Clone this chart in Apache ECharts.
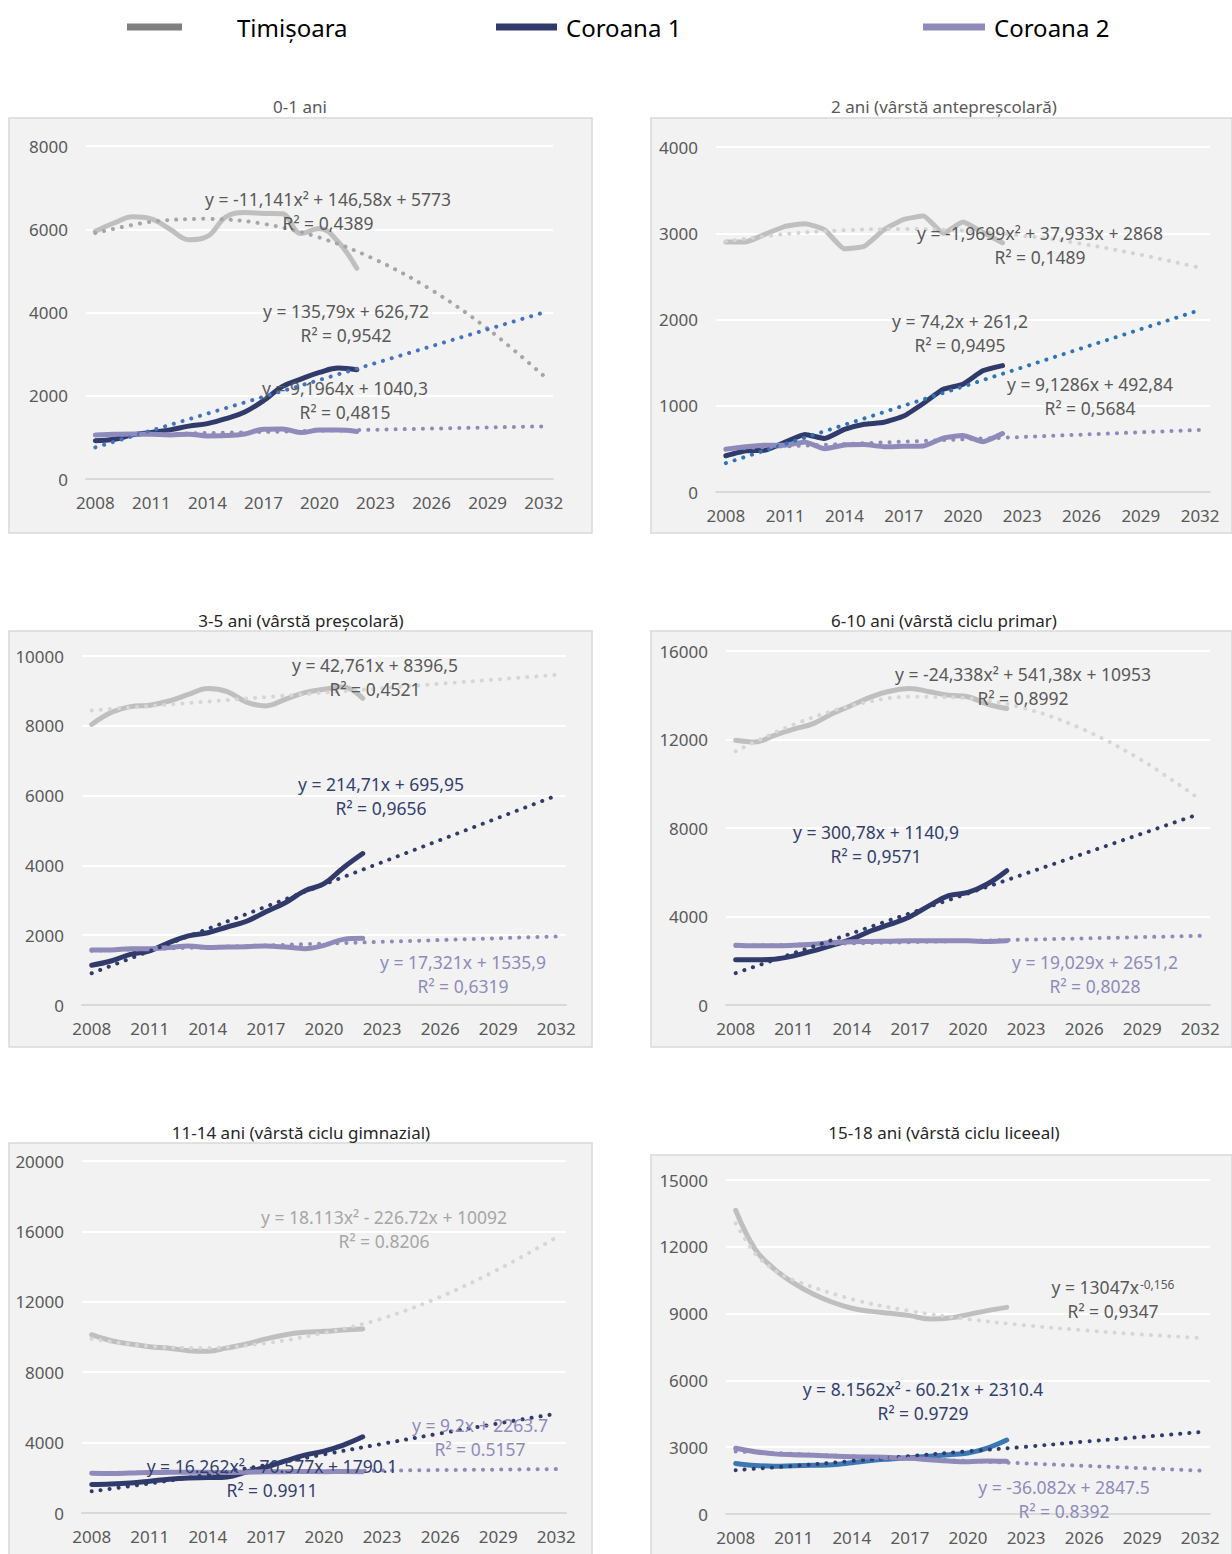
<!DOCTYPE html>
<html lang="ro">
<head>
<meta charset="utf-8">
<title>Evoluția populației pe grupe de vârstă</title>
<script src="https://cdn.jsdelivr.net/npm/echarts@6/dist/echarts.min.js"></script>
<style>
  html, body { margin: 0; padding: 0; background: #ffffff; }
  #chart { width: 1232px; height: 1554px; }
</style>
</head>
<body>
<div id="chart"></div>
<script>
// ---- Categories --------------------------------------------------------
const YEARS = ['2008', '2009', '2010', '2011', '2012', '2013', '2014', '2015', '2016', '2017',
  '2018', '2019', '2020', '2021', '2022', '2023', '2024', '2025', '2026', '2027',
  '2028', '2029', '2030', '2031', '2032'];

const SERIES_NAMES = ['Timișoara', 'Coroana 1', 'Coroana 2'];

const PANEL_TITLES = [
  '0-1 ani',
  '2 ani (vârstă antepreșcolară)',
  '3-5 ani (vârstă preșcolară)',
  '6-10 ani (vârstă ciclu primar)',
  '11-14 ani (vârstă ciclu gimnazial)',
  '15-18 ani (vârstă ciclu liceeal)'
];

// ---- 0-1 ani (2008-2022) -------------------------------------------------
const tim01 = [5950, 6150, 6300, 6250, 6000, 5750, 5830, 6300, 6400, 6380, 6370, 5900, 6020, 5700, 5060];
const cor1_01 = [920, 955, 1060, 1120, 1180, 1270, 1330, 1450, 1610, 1880, 2220, 2400, 2560, 2665, 2625];
const cor2_01 = [1060, 1075, 1083, 1075, 1060, 1075, 1035, 1043, 1083, 1195, 1204, 1115, 1175, 1175, 1140];
const tim01Trend = [['2008', 5910], ['2011', 6180], ['2014', 6250], ['2017', 6130], ['2020', 5800],
  ['2023', 5270], ['2026', 4540], ['2029', 3610], ['2032', 2480]];
const cor1_01Trend = [['2008', 760], ['2032', 4000]];
const cor2_01Trend = [['2008', 1050], ['2032', 1265]];

// ---- 2 ani ---------------------------------------------------------------
const tim02 = [2900, 2900, 2990, 3080, 3110, 3040, 2820, 2850, 3040, 3160, 3200, 3000, 3130, 3010, 2890];
const cor1_02 = [420, 478, 485, 578, 668, 620, 725, 785, 808, 880, 1028, 1190, 1250, 1405, 1465];
const cor2_02 = [497, 525, 543, 543, 580, 502, 545, 550, 525, 530, 533, 625, 655, 583, 678];
const tim02Trend = [['2008', 2905], ['2011', 2990], ['2014', 3035], ['2017', 3050], ['2020', 3030],
  ['2023', 2972], ['2026', 2878], ['2029', 2750], ['2032', 2600]];
const cor1_02Trend = [['2008', 335], ['2032', 2110]];
const cor2_02Trend = [['2008', 502], ['2032', 720]];

// ---- 3-5 ani -------------------------------------------------------------
const tim35 = [8040, 8380, 8550, 8590, 8710, 8900, 9070, 8980, 8680, 8570, 8760, 8950, 9045, 9110, 8790];
const cor1_35 = [1140, 1260, 1450, 1550, 1790, 1980, 2070, 2235, 2400, 2670, 2930, 3270, 3475, 3935, 4340];
const cor2_35 = [1575, 1575, 1615, 1615, 1645, 1690, 1645, 1660, 1670, 1690, 1660, 1615, 1710, 1880, 1910];
const tim35Trend = [['2008', 8440], ['2032', 9460]];
const cor1_35Trend = [['2008', 910], ['2032', 6000]];
const cor2_35Trend = [['2008', 1553], ['2032', 1965]];

// ---- 6-10 ani ------------------------------------------------------------
const tim610 = [11970, 11890, 12190, 12465, 12720, 13175, 13550, 13930, 14190, 14310, 14160, 14005, 13930, 13600, 13400];
const cor1_610 = [2040, 2040, 2070, 2220, 2450, 2705, 2975, 3355, 3655, 3990, 4490, 4940, 5090, 5470, 6070];
const cor2_610 = [2700, 2675, 2675, 2700, 2750, 2825, 2855, 2870, 2885, 2900, 2900, 2900, 2900, 2870, 2900];
const tim610Trend = [['2008', 11470], ['2011', 12680], ['2014', 13530], ['2017', 13930], ['2020', 13870],
  ['2023', 13390], ['2026', 12440], ['2029', 11050], ['2032', 9280]];
const cor1_610Trend = [['2008', 1440], ['2032', 8650]];
const cor2_610Trend = [['2008', 2670], ['2032', 3125]];

// ---- 11-14 ani -----------------------------------------------------------
const tim1114 = [10130, 9790, 9600, 9450, 9360, 9225, 9190, 9380, 9600, 9890, 10130, 10265, 10320, 10400, 10455];
const cor1_1114 = [1620, 1650, 1710, 1810, 1920, 1985, 2010, 2050, 2330, 2600, 2960, 3290, 3520, 3860, 4330];
const cor2_1114 = [2260, 2250, 2270, 2300, 2310, 2320, 2310, 2300, 2320, 2340, 2350, 2360, 2350, 2360, 2350];
const tim1114Trend = [['2008', 9900], ['2011', 9470], ['2014', 9380], ['2017', 9650], ['2020', 10230],
  ['2023', 11050], ['2026', 12280], ['2029', 13840], ['2032', 15650]];
const cor1_1114Trend = [['2008', 1230], ['2011', 1680], ['2014', 2170], ['2017', 2720], ['2020', 3330],
  ['2023', 3930], ['2026', 4520], ['2029', 5090], ['2032', 5640]];
const cor2_1114Trend = [['2008', 2273], ['2032', 2494]];

// ---- 15-18 ani -----------------------------------------------------------
const tim1518 = [13640, 11900, 11000, 10370, 9880, 9510, 9240, 9100, 9015, 8910, 8760, 8800, 8955, 9135, 9280];
const cor1_1518 = [2270, 2180, 2150, 2170, 2190, 2210, 2300, 2400, 2470, 2530, 2590, 2660, 2740, 2960, 3320];
const cor2_1518 = [2950, 2800, 2700, 2660, 2640, 2600, 2570, 2560, 2540, 2500, 2440, 2380, 2350, 2380, 2370];
const tim1518Trend = [['2008', 13050], ['2009', 11700], ['2010', 10950], ['2011', 10500], ['2014', 9650],
  ['2017', 9120], ['2020', 8750], ['2023', 8470], ['2026', 8250], ['2029', 8060], ['2032', 7910]];
const cor1_1518Trend = [['2008', 1970], ['2011', 2160], ['2014', 2380], ['2017', 2600], ['2020', 2820],
  ['2023', 3020], ['2026', 3250], ['2029', 3460], ['2032', 3680]];
const cor2_1518Trend = [['2008', 2810], ['2032', 1950]];

// ---- Y-axis scales (max, step) -------------------------------------------
const Y_MAX = [8000, 4000, 10000, 16000, 20000, 15000];
const Y_STEP = [2000, 1000, 2000, 4000, 4000, 3000];

// ---- Regression labels -----------------------------------------------------
const EQUATIONS = [
  [['y = -11,141x² + 146,58x + 5773', 'R² = 0,4389'], ['y = 135,79x + 626,72', 'R² = 0,9542'], ['y = 9,1964x + 1040,3', 'R² = 0,4815']],
  [['y = -1,9699x² + 37,933x + 2868', 'R² = 0,1489'], ['y = 74,2x + 261,2', 'R² = 0,9495'], ['y = 9,1286x + 492,84', 'R² = 0,5684']],
  [['y = 42,761x + 8396,5', 'R² = 0,4521'], ['y = 214,71x + 695,95', 'R² = 0,9656'], ['y = 17,321x + 1535,9', 'R² = 0,6319']],
  [['y = -24,338x² + 541,38x + 10953', 'R² = 0,8992'], ['y = 300,78x + 1140,9', 'R² = 0,9571'], ['y = 19,029x + 2651,2', 'R² = 0,8028']],
  [['y = 18.113x² - 226.72x + 10092', 'R² = 0.8206'], ['y = 16.262x² - 70.577x + 1790.1', 'R² = 0.9911'], ['y = 9.2x + 2263.7', 'R² = 0.5157']],
  [['y = 13047x{sup|-0,156}', 'R² = 0,9347'], ['y = 8.1562x² - 60.21x + 2310.4', 'R² = 0.9729'], ['y = -36.082x + 2847.5', 'R² = 0.8392']]
];

// ---- Colours -----------------------------------------------------------
const C_TIM = '#bfbfbf';
const C_COR1 = '#303b6b';
const C_COR2 = '#8e8bbb';
const C_COR1_ALT = '#3b78b3';
const TXT_GREY = '#595959';
const TXT_LIGHT = '#a6a6a6';
const TXT_NAVY = '#333f6e';
const TXT_LAV = '#8e8bbb';
const FONT = 'Noto Sans';

// ---- Panel layout ----------------------------------------------------------
const LAYOUT = [
  { box: [9, 118, 583, 415], title: [300, 106, TXT_GREY], grid: [86, 146, 467, 333], smooth: 0.4,
    lines: [C_TIM, C_COR1, C_COR2], trends: ['#a6a6a6', '#4472c4', C_COR2],
    labels: [[328, 199, TXT_GREY], [346, 311, TXT_GREY], [345, 388, TXT_GREY]] },
  { box: [651, 118, 581, 415], title: [944, 106, TXT_GREY], grid: [716, 147, 494, 345], smooth: 0.15,
    lines: [C_TIM, C_COR1, C_COR2], trends: ['#d3d3d3', '#2e75b6', C_COR2],
    labels: [[1040, 233, TXT_GREY], [960, 321, TXT_GREY], [1090, 384, TXT_GREY]] },
  { box: [9, 631, 583, 416], title: [301, 620, '#262626'], grid: [82, 656, 484, 349], smooth: 0.4,
    lines: [C_TIM, C_COR1, C_COR2], trends: ['#d6d6d6', C_COR1, C_COR2],
    labels: [[375, 665, TXT_GREY], [381, 784, TXT_NAVY], [463, 962, TXT_LAV]] },
  { box: [651, 631, 581, 416], title: [944, 620, '#262626'], grid: [726, 651, 484, 354], smooth: 0.4,
    lines: [C_TIM, C_COR1, C_COR2], trends: ['#d6d6d6', C_COR1, C_COR2],
    labels: [[1023, 674, TXT_GREY], [876, 832, TXT_NAVY], [1095, 962, TXT_LAV]] },
  { box: [9, 1143, 583, 412], title: [301, 1132, '#262626'], grid: [82, 1161, 484, 352], smooth: 0.4,
    lines: [C_TIM, C_COR1, C_COR2], trends: ['#d6d6d6', C_COR1, C_COR2],
    labels: [[384, 1217, TXT_LIGHT], [272, 1466, TXT_NAVY], [480, 1425, TXT_LAV]] },
  { box: [651, 1155, 581, 400], title: [944, 1132, '#262626'], grid: [726, 1180, 484, 334], smooth: 0.4,
    lines: [C_TIM, C_COR1_ALT, C_COR2], trends: ['#d6d6d6', C_COR1, C_COR2],
    labels: [[1113, 1287, TXT_GREY], [923, 1389, TXT_NAVY], [1064, 1487, TXT_LAV]] }
];

const PANEL_DATA = [
  { lines: [tim01, cor1_01, cor2_01], trends: [tim01Trend, cor1_01Trend, cor2_01Trend] },
  { lines: [tim02, cor1_02, cor2_02], trends: [tim02Trend, cor1_02Trend, cor2_02Trend] },
  { lines: [tim35, cor1_35, cor2_35], trends: [tim35Trend, cor1_35Trend, cor2_35Trend] },
  { lines: [tim610, cor1_610, cor2_610], trends: [tim610Trend, cor1_610Trend, cor2_610Trend] },
  { lines: [tim1114, cor1_1114, cor2_1114], trends: [tim1114Trend, cor1_1114Trend, cor2_1114Trend] },
  { lines: [tim1518, cor1_1518, cor2_1518], trends: [tim1518Trend, cor1_1518Trend, cor2_1518Trend] }
];

// ---- Build option ----------------------------------------------------------
const grids = [], xAxes = [], yAxes = [], series = [], graphics = [];

LAYOUT.forEach((p, i) => {
  const [gl, gt, gw, gh] = p.grid;
  grids.push({ left: gl, top: gt, width: gw, height: gh, containLabel: false });

  xAxes.push({
    type: 'category', gridIndex: i, data: YEARS, boundaryGap: true,
    axisTick: { show: false },
    axisLine: { show: true, lineStyle: { color: '#d9d9d9', width: 2 } },
    axisLabel: { interval: 2, color: TXT_GREY, fontSize: 17, fontFamily: FONT, margin: 15 },
    splitLine: { show: false }
  });
  yAxes.push({
    type: 'value', gridIndex: i, min: 0, max: Y_MAX[i], interval: Y_STEP[i],
    axisLine: { show: false }, axisTick: { show: false },
    axisLabel: { color: TXT_GREY, fontSize: 17, fontFamily: FONT, margin: 18, formatter: (v) => String(v) },
    splitLine: { show: true, lineStyle: { color: '#ffffff', width: 2 } }
  });

  // observed series
  PANEL_DATA[i].lines.forEach((values, k) => {
    series.push({
      type: 'line', name: SERIES_NAMES[k], xAxisIndex: i, yAxisIndex: i,
      data: values, symbol: 'none', smooth: p.smooth, silent: true,
      lineStyle: { color: p.lines[k], width: 5, cap: 'round', join: 'round' },
      itemStyle: { color: p.lines[k] },
      emphasis: { disabled: true }, z: 3 + k * 0.1
    });
  });
  // trend lines (dotted)
  PANEL_DATA[i].trends.forEach((pts, k) => {
    series.push({
      type: 'line', name: SERIES_NAMES[k] + ' – tendință', xAxisIndex: i, yAxisIndex: i,
      data: pts, symbol: 'none', connectNulls: true, silent: true,
      smooth: pts.length > 2 ? 0.35 : false,
      lineStyle: { color: p.trends[k], width: 4, type: [0.1, 9], cap: 'round' },
      itemStyle: { color: p.trends[k] },
      emphasis: { disabled: true }, z: 5
    });
  });

  // panel background and frame
  const [bx, by, bw, bh] = p.box;
  graphics.push({
    type: 'rect', z: -10, silent: true,
    shape: { x: bx, y: by, width: bw, height: bh },
    style: { fill: '#f2f2f2', stroke: '#d9d9d9', lineWidth: 1.5 }
  });
  // panel title
  graphics.push({
    type: 'text', z: 20, silent: true, x: p.title[0], y: p.title[1],
    style: { text: PANEL_TITLES[i], fill: p.title[2], font: '17px "Noto Sans"', align: 'center', verticalAlign: 'middle' }
  });
  // regression labels
  EQUATIONS[i].forEach((pair, k) => {
    const [lx, ly, col] = p.labels[k];
    graphics.push({
      type: 'text', z: 100, silent: true, x: lx, y: ly,
      style: {
        text: pair[0], fill: col, font: '17.5px "Noto Sans"', align: 'center', verticalAlign: 'middle',
        rich: { sup: { fontSize: 12, fontFamily: FONT, fill: col, verticalAlign: 'top', padding: [0, 0, 6, 1] } }
      }
    });
    graphics.push({
      type: 'text', z: 100, silent: true, x: lx, y: ly + 24,
      style: { text: pair[1], fill: col, font: '17.5px "Noto Sans"', align: 'center', verticalAlign: 'middle' }
    });
  });
});

function legendBlock(name, left, width, color, gap) {
  return {
    left: left, top: 15, padding: 0, itemWidth: width, itemHeight: 7, selectedMode: false,
    data: [{ name: name, icon: 'rect', itemStyle: { color: color, borderWidth: 0 } }],
    textStyle: { fontSize: 24, color: '#000000', fontFamily: FONT, padding: [0, 0, 0, gap] }
  };
}

const option = {
  animation: false,
  backgroundColor: '#ffffff',
  textStyle: { fontFamily: FONT },
  legend: [
    legendBlock(SERIES_NAMES[0], 127, 55, '#7f7f7f', 50),
    legendBlock(SERIES_NAMES[1], 496, 61, C_COR1, 4),
    legendBlock(SERIES_NAMES[2], 923, 62, C_COR2, 4)
  ],
  grid: grids,
  xAxis: xAxes,
  yAxis: yAxes,
  series: series,
  graphic: { elements: graphics }
};

const chart = echarts.init(document.getElementById('chart'), null, { renderer: 'svg', width: 1232, height: 1554 });
chart.setOption(option);
</script>
</body>
</html>
